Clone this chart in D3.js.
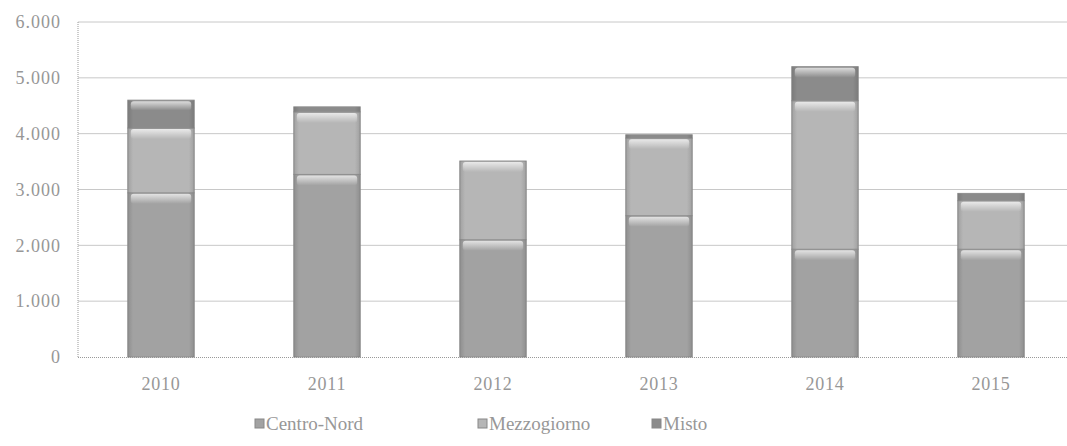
<!DOCTYPE html>
<html><head><meta charset="utf-8">
<script src="https://cdn.jsdelivr.net/npm/d3@7"></script>
<style>body{margin:0;background:#fff}svg{display:block}
text{font-family:'Liberation Serif','DejaVu Serif','Times New Roman',serif;fill:#979797}</style>
</head><body>
<svg id="c" width="1067" height="446"></svg>
<script>
const years = ["2010","2011","2012","2013","2014","2015"];
const centroNord = [2940, 3270, 2100, 2530, 1930, 1930];
const mezzogiorno = [1160, 1120, 1410, 1390, 2660, 870];
const misto = [500, 90, 0, 60, 610, 130];
const seriesNames = ["Centro-Nord","Mezzogiorno","Misto"];
const seriesColors = ["#a2a2a2","#b6b6b6","#8b8b8b"];
const yTicks = [0,1000,2000,3000,4000,5000,6000];

const svg = d3.select("#c");
const x = d3.scaleBand().domain(years).range([78,1074]).paddingInner(0.6).paddingOuter(0.3);
const y = d3.scaleLinear().domain([0,6000]).range([357,22]);
const fmt = v => d3.format(",")(v).replace(/,/g,".");

const defs = svg.append("defs");
const hl = defs.append("linearGradient").attr("id","hl").attr("x1",0).attr("y1",0).attr("x2",0).attr("y2",1);
hl.append("stop").attr("offset","0%").attr("stop-color","#fff").attr("stop-opacity",0.7);
hl.append("stop").attr("offset","100%").attr("stop-color","#fff").attr("stop-opacity",0);
const side = defs.append("linearGradient").attr("id","side").attr("x1",0).attr("y1",0).attr("x2",1).attr("y2",0);
side.append("stop").attr("offset","0%").attr("stop-color","#000").attr("stop-opacity",0.12);
side.append("stop").attr("offset","8%").attr("stop-color","#000").attr("stop-opacity",0);
side.append("stop").attr("offset","92%").attr("stop-color","#000").attr("stop-opacity",0);
side.append("stop").attr("offset","100%").attr("stop-color","#000").attr("stop-opacity",0.12);

// gridlines
svg.append("g").selectAll("line").data(yTicks.filter(d=>d>0)).join("line")
  .attr("x1",78).attr("x2",1067).attr("y1",d=>y(d)).attr("y2",d=>y(d))
  .attr("stroke","#c8c8c8").attr("stroke-width",1);

// axes lines (dotted)
svg.append("line").attr("x1",78).attr("x2",78).attr("y1",y(6000)).attr("y2",y(0))
  .attr("stroke","#999").attr("stroke-dasharray","1,1");
svg.append("line").attr("x1",78).attr("x2",1067).attr("y1",y(0)+0.5).attr("y2",y(0)+0.5)
  .attr("stroke","#999").attr("stroke-dasharray","1,1");

// y tick labels
svg.append("g").selectAll("text").data(yTicks).join("text")
  .attr("x",61).attr("y",d=>y(d)).attr("dy","0.35em").attr("text-anchor","end")
  .attr("font-size",18).attr("letter-spacing",1)
  .text(fmt);

// x labels
svg.append("g").selectAll("text").data(years).join("text")
  .attr("x",d=>x(d)+x.bandwidth()/2).attr("y",390).attr("text-anchor","middle")
  .attr("font-size",18).attr("letter-spacing",0.8)
  .text(d=>d);

// stacked bars
const rows = years.map((yr,i)=>({year:yr, "Centro-Nord":centroNord[i], "Mezzogiorno":mezzogiorno[i], "Misto":misto[i]}));
const stack = d3.stack().keys(seriesNames)(rows);
stack.forEach((s,si)=>{
  const g = svg.append("g");
  const segs = s.filter(d=>d[1]-d[0]>0);
  g.selectAll("rect.b").data(segs).join("rect").attr("class","b")
    .attr("x",d=>x(d.data.year)).attr("width",x.bandwidth())
    .attr("y",d=>y(d[1])).attr("height",d=>y(d[0])-y(d[1]))
    .attr("fill",seriesColors[si]).attr("stroke","#8f8f8f").attr("stroke-width",1);
  g.selectAll("rect.s").data(segs).join("rect").attr("class","s")
    .attr("x",d=>x(d.data.year)).attr("width",x.bandwidth())
    .attr("y",d=>y(d[1])).attr("height",d=>y(d[0])-y(d[1]))
    .attr("fill","url(#side)");
  g.selectAll("rect.h").data(segs.filter(d=>y(d[0])-y(d[1])>8)).join("rect").attr("class","h")
    .attr("x",d=>x(d.data.year)+3).attr("width",x.bandwidth()-6)
    .attr("y",d=>y(d[1])+1).attr("height",d=>Math.min(10,(y(d[0])-y(d[1]))/3))
    .attr("rx",3).attr("fill","url(#hl)");
});

// legend
const legX = [255, 478, 652];
const lg = svg.append("g").selectAll("g").data(seriesNames).join("g")
  .attr("transform",(d,i)=>`translate(${legX[i]},430)`);
lg.append("rect").attr("x",0).attr("y",-11).attr("width",9).attr("height",9)
  .attr("fill",(d,i)=>seriesColors[i]).attr("stroke","#888");
lg.append("text").attr("x",11).attr("y",0)
  .attr("font-size",19)
  .text(d=>d);
</script>
</body></html>
